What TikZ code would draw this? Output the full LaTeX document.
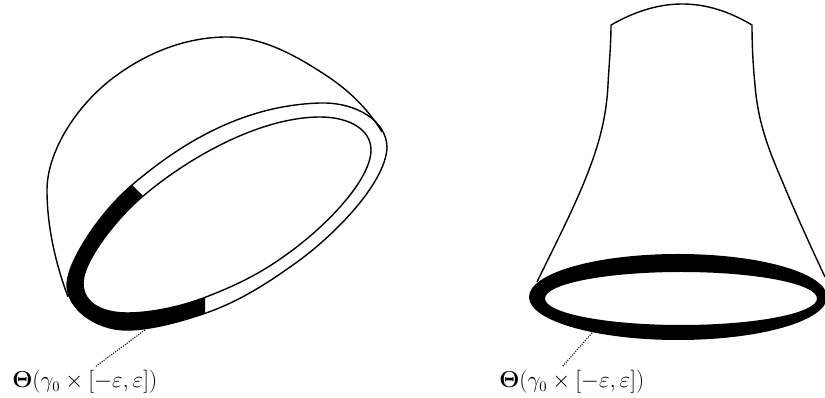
\documentclass[tikz,border=0pt]{standalone}
\begin{document}
\begin{tikzpicture}[x=0.75pt,y=-0.75pt,
  curve/.style={line width=1.05pt,line join=round},
  leader/.style={line width=0.8pt,densely dotted},
  lab/.style={anchor=base west,inner sep=0pt,font=\fontsize{16}{19}\selectfont}]
\useasboundingbox (0,0) rectangle (825,398);
\def\outerpath{(67,285) .. controls (67,262) and (100,212) .. (132,185)
  .. controls (194,132) and (255,105) .. (320,103)
  .. controls (355,102) and (387,120) .. (387,148)
  .. controls (385,185) and (330,240) .. (290,267)
  .. controls (262,287) and (235,303) .. (206,313)
  .. controls (180,322) and (150,330) .. (127,330)
  .. controls (95,330) and (67,308) .. (67,285) -- cycle}
\def\innerpath{(83,283) .. controls (83,262) and (115,220) .. (142,197)
  .. controls (195,152) and (265,117) .. (320,117)
  .. controls (350,117) and (371,130) .. (371,150)
  .. controls (371,180) and (325,228) .. (283,257)
  .. controls (258,275) and (232,287) .. (206,297)
  .. controls (180,307) and (150,313) .. (127,313)
  .. controls (105,313) and (83,305) .. (83,283) -- cycle}
% black band
\begin{scope}
\clip (132,185) -- (143,196) -- (205,250) -- (205,297) -- (205,360) -- (40,360) -- (40,185) -- cycle;
\fill[even odd rule,black] \outerpath \innerpath;
\end{scope}
\draw[curve] \outerpath;
\draw[curve] \innerpath;
% dome
\draw[curve] (68,297) .. controls (55,262) and (47,225) .. (47,190)
  .. controls (47,152) and (76,106) .. (113,78)
  .. controls (150,50) and (190,37) .. (227,37)
  .. controls (265,37) and (300,58) .. (330,78)
  .. controls (352,93) and (370,112) .. (382,132);
% right figure
\draw[curve] (537,282) .. controls (555,245) and (572,212) .. (585,180)
  .. controls (595,155) and (606,125) .. (608,85)
  .. controls (609,65) and (611,45) .. (611,25)
  .. controls (660,-3) and (705,-3) .. (752,25)
  .. controls (752,45) and (753,65) .. (755,85)
  .. controls (758,125) and (771,155) .. (783,183)
  .. controls (795,212) and (810,245) .. (825,277);
\fill[even odd rule,black] (678,297) ellipse [x radius=149,y radius=43] (681,298.5) ellipse [x radius=136,y radius=26.5];
% labels and leaders
\node[lab] (labL) at (12,388) {$\mathbf{\Theta}(\gamma_0\times[-\varepsilon,\varepsilon])$};
\node[lab] (labR) at (499,388) {$\mathbf{\Theta}(\gamma_0\times[-\varepsilon,\varepsilon])$};
\coordinate (ringL) at (145,330);
\coordinate (ringR) at (592,333);
\coordinate (endL) at (95,367);
\coordinate (endR) at (562,367);
\draw[leader] (ringL) -- (endL);
\draw[leader] (ringR) -- (endR);
\end{tikzpicture}
\end{document}
